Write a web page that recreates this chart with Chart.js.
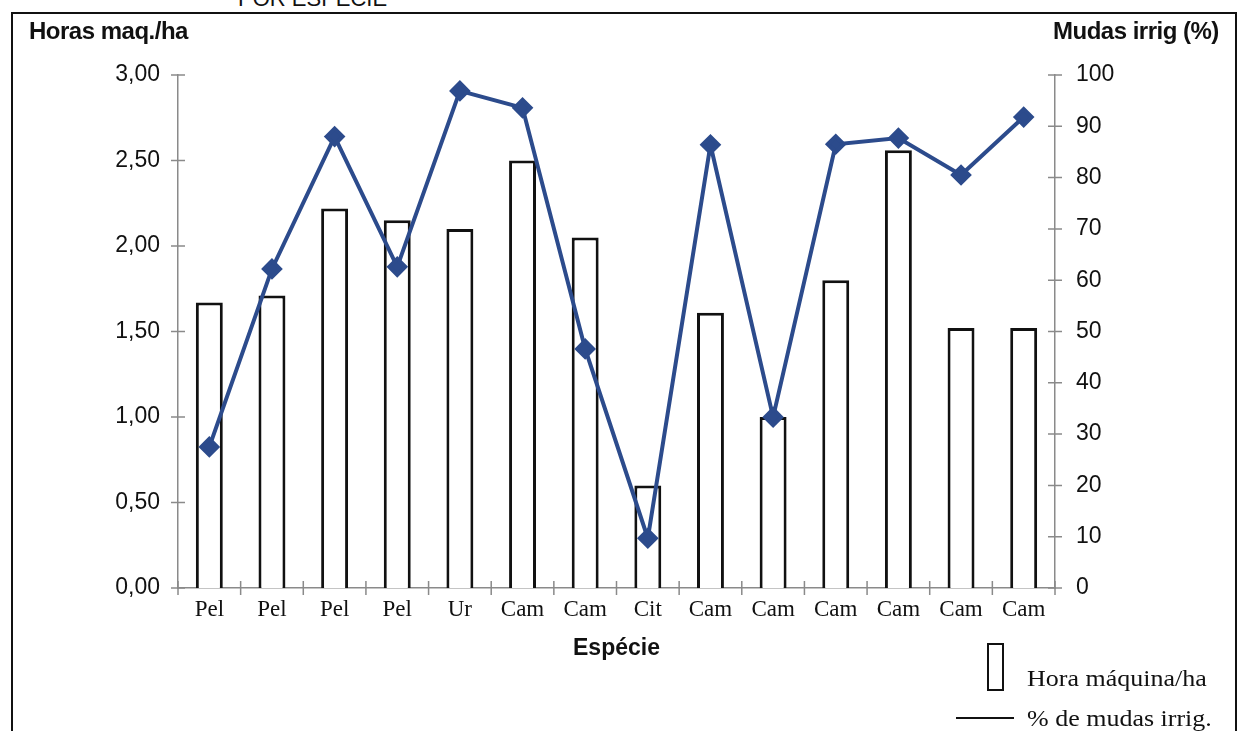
<!DOCTYPE html>
<html>
<head>
<meta charset="utf-8">
<script src="https://cdn.jsdelivr.net/npm/chart.js@4.4.1/dist/chart.umd.min.js"></script>
<style>
body{margin:0;background:#fff;overflow:hidden}
#wrap{position:relative;width:1240px;height:731px}
#frame{position:absolute;left:11px;top:12px;width:1226px;height:740px;border:2px solid #111;box-sizing:border-box}
canvas{position:absolute;left:0;top:0}
.txt{position:absolute;color:#111;white-space:nowrap}
.ax{font-family:"Liberation Sans",Arial,sans-serif;font-weight:bold;font-size:24px;letter-spacing:-0.5px}
.leg{font-family:"Liberation Serif","Times New Roman",serif;font-size:23px;transform:scaleX(1.13);transform-origin:left center}
</style>
</head>
<body>
<div id="wrap">
<div class="txt" style="left:238px;top:-14px;font-family:'Liberation Sans',Arial,sans-serif;font-size:22px">POR ESPÉCIE</div>
<div id="frame"></div>
<canvas id="chart" width="1240" height="731"></canvas>
<div class="txt ax" style="left:29px;top:17px">Horas maq./ha</div>
<div class="txt ax" style="left:1053px;top:17px">Mudas irrig (%)</div>
<div style="position:absolute;left:987px;top:643px;width:13px;height:44px;border:2px solid #111"></div>
<div class="txt leg" style="left:1027px;top:666px">Hora máquina/ha</div>
<div style="position:absolute;left:956px;top:717px;width:58px;height:2px;background:#111"></div>
<div class="txt leg" style="left:1027px;top:706px">% de mudas irrig.</div>
</div>
<script>
/* ---------------- DATA ---------------- */

const especies = ["Pel","Pel","Pel","Pel","Ur","Cam","Cam","Cit","Cam","Cam","Cam","Cam","Cam","Cam"]
const horasMaq = [1.67,1.71,2.22,2.15,2.10,2.50,2.05,0.60,1.61,1.00,1.80,2.56,1.52,1.52]
const mudasIrrig = [27.5,62.2,88,62.6,96.9,93.6,46.6,9.7,86.4,33.3,86.5,87.7,80.5,91.8]
const leftTicks = [0,0.5,1,1.5,2,2.5,3]
const rightTicks = [0,10,20,30,40,50,60,70,80,90,100]

const blue = "#2c4b8c"
const axisGray = "#8a8a8a"

/* tick marks crossing the axes */
const crossTicks = {
id:"crossTicks",
afterDraw(chart){
const ctx = chart.ctx
const x = chart.scales.x, yl = chart.scales.y, yr = chart.scales.y1
ctx.save()
ctx.strokeStyle = axisGray
ctx.lineWidth = 1.5
ctx.beginPath()
leftTicks.forEach(v=>{
const py = yl.getPixelForValue(v)
ctx.moveTo(yl.right-7,py); ctx.lineTo(yl.right+7,py)
})
rightTicks.forEach(v=>{
const py = yr.getPixelForValue(v)
ctx.moveTo(yr.left-7,py); ctx.lineTo(yr.left+7,py)
})
const step = x.width/especies.length
for(let i=0;i<=especies.length;i++){
const px = x.left+step*i
ctx.moveTo(px,x.top-7); ctx.lineTo(px,x.top+7)
}
ctx.stroke()
ctx.restore()
}
}

new Chart(document.getElementById("chart"),{
data:{
labels:especies,
datasets:[
{
type:"line",
label:"% de mudas irrig.",
data:mudasIrrig,
yAxisID:"y1",
borderColor:blue,
backgroundColor:blue,
borderWidth:4,
pointStyle:"rectRot",
pointRadius:8,
pointHoverRadius:8,
tension:0,
order:0
},
{
type:"bar",
label:"Hora máquina/ha",
data:horasMaq,
yAxisID:"y",
backgroundColor:"#fff",
borderColor:"#111",
borderWidth:3,
barPercentage:0.43,
categoryPercentage:1,
order:1
}
]
},
options:{
responsive:false,
animation:false,
layout:{padding:{top:75,left:0,right:0,bottom:69}},
plugins:{legend:{display:false},tooltip:{enabled:false}},
scales:{
x:{
grid:{display:false,drawTicks:false},
border:{color:axisGray,width:1.5},
ticks:{
color:"#111",
padding:8,
font:{family:"'Liberation Serif','Times New Roman',serif",size:23}
},
title:{
display:true,
text:"Espécie",
color:"#111",
padding:{top:4,bottom:0},
font:{family:"'Liberation Sans',Arial,sans-serif",size:23,weight:"bold"}
},
afterFit:s=>{s.height=74}
},
y:{
position:"left",
min:0,max:3,
afterBuildTicks:s=>{s.ticks=leftTicks.map(v=>({value:v}))},
grid:{display:false,drawTicks:false},
border:{color:axisGray,width:1.5},
ticks:{
color:"#111",
padding:18,
font:{family:"'Liberation Sans',Arial,sans-serif",size:23},
callback:v=>v.toFixed(2).replace(".",",")
},
afterFit:s=>{s.width=178}
},
y1:{
position:"right",
min:0,max:100,
afterBuildTicks:s=>{s.ticks=rightTicks.map(v=>({value:v}))},
grid:{display:false,drawTicks:false},
border:{color:axisGray,width:1.5},
ticks:{
color:"#111",
padding:21,
font:{family:"'Liberation Sans',Arial,sans-serif",size:23}
},
afterFit:s=>{s.width=185}
}
}
},
plugins:[crossTicks]
})
</script>
</body>
</html>
